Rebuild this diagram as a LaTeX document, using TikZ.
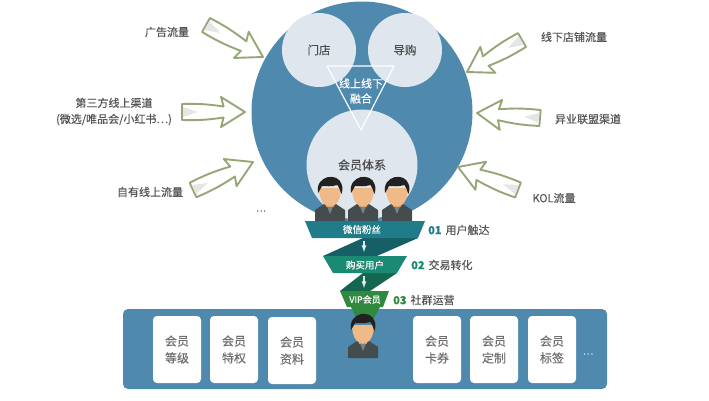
\documentclass[tikz,border=0pt]{standalone}
\usepackage{fontspec}
\setmainfont{Noto Sans CJK SC}[FakeBold=0.3]
\usetikzlibrary{calc}

\definecolor{circleblue}{HTML}{4F89AE}
\definecolor{lightdisc}{HTML}{DFE6EE}
\definecolor{arrowolive}{HTML}{97A677}
\definecolor{labelgray}{HTML}{555555}
\definecolor{bandone}{HTML}{1F7C88}
\definecolor{bandtwo}{HTML}{1B8A72}
\definecolor{bandthree}{HTML}{2F8A3F}
\definecolor{foldone}{HTML}{175F66}
\definecolor{foldtwo}{HTML}{14664F}
\definecolor{skin}{HTML}{EFB988}
\definecolor{hair}{HTML}{23211F}
\definecolor{suit}{HTML}{454C4E}

\tikzset{
  flowlabel/.style={text=labelgray,font=\fontsize{11}{14}\selectfont,align=center,inner sep=0pt},
  disclabel/.style={text=labelgray!90!black,font=\fontsize{11.5}{14}\selectfont,inner sep=0pt},
  bandlabel/.style={text=white,font=\fontsize{9.5}{12}\selectfont,inner sep=0pt},
  steplabel/.style={text=labelgray,font=\fontsize{11}{14}\selectfont,anchor=west,inner sep=0pt},
  cardbox/.style={fill=white,rounded corners=4pt,minimum width=48pt,minimum height=67pt,inner sep=0pt,
    text=labelgray!85,font=\fontsize{12}{17}\selectfont,align=center},
  person/.pic={
    \fill[suit] (-15,31) -- (-15,20) -- (-6,14) -- (6,14) -- (15,20) -- (15,31) -- cycle;
    \fill[suit!70!white] (-4,14) -- (4,14) -- (0,24) -- cycle;
    \fill[skin!85!black] (-4,8) rectangle (4,17);
    \fill[skin] (-11,-2) .. controls (-11,10) and (-6,16.5) .. (0,16.5) .. controls (6,16.5) and (11,10) .. (11,-2) -- cycle;
    \fill[hair] (-12,3) .. controls (-15,-15) and (8,-18) .. (11.5,-6) .. controls (13,-2) and (12.5,0) .. (11.5,4)
      .. controls (9.5,0) and (9.5,-3) .. (7.5,-5) .. controls (1,-3) and (-5,-4) .. (-8,-4)
      .. controls (-9,-2) and (-10,0) .. (-12,3) -- cycle;
  }
}

% block arrow from tail coordinate to tip coordinate
\newcommand{\flowarrow}[2]{
  \draw[arrowolive,line width=1.9pt,line join=round,fill=white]
    ($(#1)!8pt!90:(#2)$) to[bend left=5] ($(#1)!0.66!(#2)!5.5pt!90:(#2)$)
    -- ($(#1)!0.62!(#2)!15pt!90:(#2)$) -- (#2)
    -- ($(#1)!0.62!(#2)!15pt!-90:(#2)$) -- ($(#1)!0.66!(#2)!5.5pt!-90:(#2)$)
    to[bend left=5] ($(#1)!8pt!-90:(#2)$) -- cycle;
  \fill[black!10] ($(#1)!1pt!(#2)!5pt!90:(#2)$) -- ($(#1)!0.25!(#2)$) -- ($(#1)!1pt!(#2)!5pt!-90:(#2)$) -- cycle;
}

\begin{document}
\begin{tikzpicture}[x=1pt,y=-1pt]
  \useasboundingbox (0,0) rectangle (709,400);

  % Draw the big circle
  \fill[circleblue] (362,112) circle (110.5);
  \node[circle,fill=lightdisc,minimum size=74pt,inner sep=0pt,disclabel] (store) at (319,50) {门店};
  \node[circle,fill=lightdisc,minimum size=74pt,inner sep=0pt,disclabel] (guide) at (405,50) {导购};
  \fill[lightdisc] (362,165) circle (55.5);
  \node[disclabel,font=\fontsize{12}{14}\selectfont] (system) at (362,165) {会员体系};
  \draw[white,line width=1.2pt,line join=round] (327,66) -- (394,66) -- (361,130) -- cycle;
  \node[text=white,font=\fontsize{11}{15}\selectfont,align=center,inner sep=0pt] (merge) at (361,91) {线上线下\\融合};

  % Draw the arrows
  \foreach \name/\tailx/\taily/\tipx/\tipy in {
      ad/206/25/263/57, third/182/112/245/112, own/193/190/253/162,
      shop/522/40/467/72, union/540/118/477/113, kol/518/190/458/167} {
    \coordinate (\name tail) at (\tailx,\taily);
    \coordinate (\name tip) at (\tipx,\tipy);
    \flowarrow{\name tail}{\name tip}
  }

  % Place the arrow labels
  \node[flowlabel] (adlabel) at (167,32) {广告流量};
  \node[flowlabel,font=\fontsize{11}{16}\selectfont] (thirdlabel) at (114,111.5) {第三方线上渠道\\(微选/唯品会/小红书…)};
  \node[flowlabel] (ownlabel) at (150,192) {自有线上流量};
  \node[flowlabel] (shoplabel) at (574,37) {线下店铺流量};
  \node[flowlabel] (unionlabel) at (588,119) {异业联盟渠道};
  \node[flowlabel] (kollabel) at (554,198) {KOL流量};
  \node[text=labelgray,font=\fontsize{9}{10}\selectfont,inner sep=0pt] (moreleft) at (261,211) {…};

  % Draw the panel and its cards
  \fill[circleblue,rounded corners=5pt] (123,309) rectangle (607,389);
  \foreach \name/\x/\y/\txt in {
      level/177/349.5/等级, right/234/349.5/特权, data/292/350.5/资料,
      coupon/437/349.5/卡券, custom/494/349.5/定制, tag/552/349.5/标签} {
    \node[cardbox] (\name) at (\x,\y) {会员\\\txt};
  }
  \node[text=white!75!circleblue,font=\fontsize{10}{11}\selectfont,inner sep=0pt] (moreright) at (588,354) {…};

  % Draw the funnel
  \fill[bandthree] (351,307) -- (380,307) -- (372,322) -- (358,322) -- cycle;
  \fill[foldone] (363,238) -- (323,256) -- (377,256) -- (418,238) -- cycle;
  \fill[foldtwo] (363,273) -- (340,291) -- (370,291) -- (397,273) -- cycle;
  \fill[bandone] (305,221) -- (425,221) -- (418,238) -- (312,238) -- cycle;
  \fill[bandtwo] (323,256) -- (407,256) -- (397,273) -- (333,273) -- cycle;
  \fill[bandthree] (340,291) -- (389,291) -- (383,307) -- (347,307) -- cycle;
  \node[bandlabel] (wechat) at (362,229.5) {微信粉丝};
  \node[bandlabel] (buyer) at (365,265) {购买用户};
  \node[bandlabel,font=\fontsize{9}{12}\selectfont] (vip) at (365,299.5) {VIP会员};
  \draw[white!85!bandone,line width=1.3pt,-latex] (364,241) -- (364,252);
  \draw[white!85!bandtwo,line width=1.3pt,-latex] (364,276) -- (364,288);

  % Place the step labels
  \node[steplabel] (stepone) at (428,230) {\textcolor{bandone}{\textbf{01}}\hspace{1.5pt} 用户触达};
  \node[steplabel] (steptwo) at (411,265) {\textcolor{bandtwo}{\textbf{02}}\hspace{1.5pt} 交易转化};
  \node[steplabel] (stepthree) at (393,300) {\textcolor{bandthree}{\textbf{03}}\hspace{1.5pt} 社群运营};

  % Place the people
  \foreach \x in {330,363,397} {
    \pic at (\x,190) {person};
  }
  \pic at (363,327) {person};
\end{tikzpicture}
\end{document}
